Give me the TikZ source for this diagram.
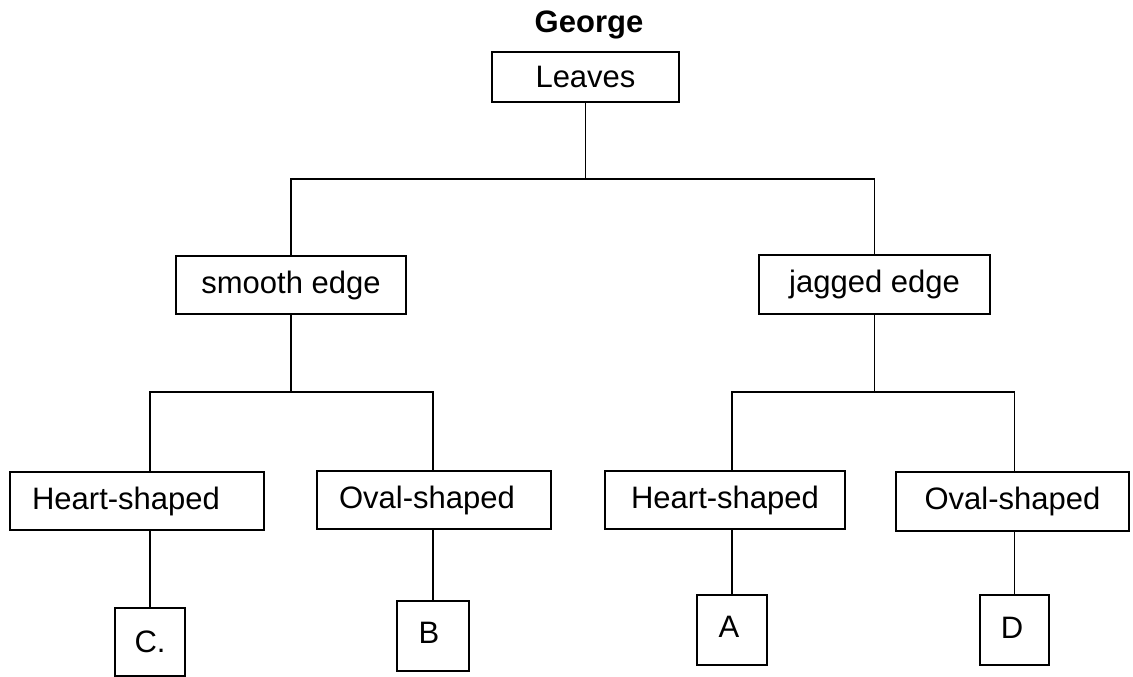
\documentclass[tikz,border=0pt]{standalone}
\usepackage{fontspec}
\setmainfont{Liberation Sans}
\begin{document}
\begin{tikzpicture}[x=1pt,y=-1pt,
  box/.style={draw=black,line width=1.4pt,inner sep=0pt,font=\fontsize{31}{36}\selectfont},
  conn/.style={draw=black,line width=1.8pt}]
\useasboundingbox[fill=white] (0,0) rectangle (1133,677);
\node[anchor=base,font=\fontsize{31}{36}\selectfont\bfseries] (george) at (589,33) {George};
\node[box,minimum width=187pt,minimum height=50pt] (leaves) at (585.5,77) {Leaves};
\node[box,minimum width=230pt,minimum height=58pt] (smooth) at (291,285) {smooth edge};
\node[box,minimum width=231pt,minimum height=59pt] (jagged) at (874.5,284.5) {jagged edge};
\node[box,minimum width=254pt,minimum height=58pt] (hsl) at (137,501) {Heart-shaped\kern22pt\relax};
\node[box,minimum width=234pt,minimum height=58pt] (osl) at (434,500) {Oval-shaped\kern14pt\relax};
\node[box,minimum width=240pt,minimum height=58pt] (hsr) at (725,500) {Heart-shaped};
\node[box,minimum width=233pt,minimum height=59pt] (osr) at (1012.5,501.5) {Oval-shaped};
\node[box,minimum width=70pt,minimum height=68pt] (lc) at (150,642) {C.};
\node[box,minimum width=72pt,minimum height=70pt] (lb) at (433,636) {\raisebox{6pt}{B}\kern8pt\relax};
\node[box,minimum width=70pt,minimum height=70pt] (la) at (732,630) {\raisebox{6pt}{A}\kern6pt\relax};
\node[box,minimum width=69pt,minimum height=70pt] (ld) at (1014.5,630) {\raisebox{5pt}{D}\kern5pt\relax};
\coordinate (j1) at (585.5,179);
\coordinate (j2) at (291,392);
\coordinate (j3) at (874.5,392);
\draw[conn] (leaves.south) -- (j1);
\draw[conn] (smooth.north) |- (j1) -| (jagged.north);
\draw[conn] (smooth.south) -- (j2);
\draw[conn] (lc.north |- hsl.north) |- (j2) -| (lb.north |- osl.north);
\draw[conn] (jagged.south) -- (j3);
\draw[conn] (la.north |- hsr.north) |- (j3) -| (ld.north |- osr.north);
\draw[conn] (lc.north |- hsl.south) -- (lc.north);
\draw[conn] (lb.north |- osl.south) -- (lb.north);
\draw[conn] (la.north |- hsr.south) -- (la.north);
\draw[conn] (ld.north |- osr.south) -- (ld.north);
\end{tikzpicture}
\end{document}
